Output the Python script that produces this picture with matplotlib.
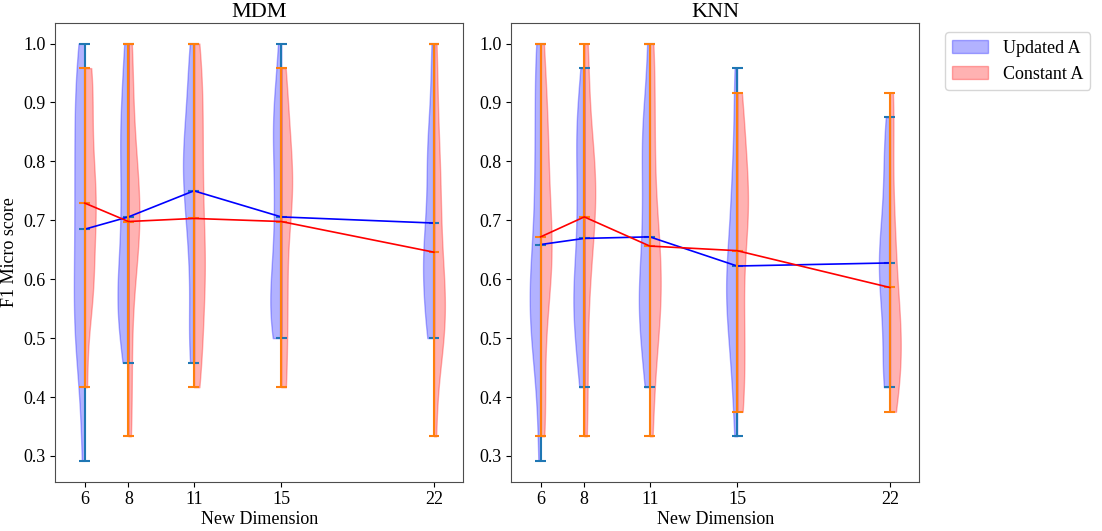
import numpy as np
import matplotlib
matplotlib.use("Agg")
import matplotlib.pyplot as plt
from matplotlib.patches import Patch

plt.rcParams["font.family"] = ["Liberation Serif", "DejaVu Serif"]
plt.rcParams["font.size"] = 13
plt.rcParams["axes.edgecolor"] = "0.3"

# test set has 24 trials, scores below are counts of correct trials per run
N_TEST = 24
dims = [6, 8, 11, 15, 22]
titles = ["MDM", "KNN"]

mdm_updated = [
    [7, 10, 12, 12, 13, 14, 15, 16, 17, 18, 19, 20, 21, 22, 23, 24],
    [11, 12, 13, 13, 14, 14, 15, 16, 17, 18, 19, 20, 21, 21, 23, 24],
    [11, 12, 13, 15, 16, 17, 18, 18, 19, 19, 20, 20, 21, 22, 23, 24],
    [12, 12, 13, 13, 14, 14, 15, 16, 17, 18, 19, 20, 21, 21, 22, 24],
    [12, 12, 13, 14, 14, 15, 15, 16, 16, 17, 18, 19, 20, 20, 22, 24],
]
mdm_constant = [
    [10, 13, 14, 14, 15, 16, 17, 17, 18, 18, 19, 20, 21, 22, 23, 23],
    [8, 10, 12, 14, 15, 16, 16, 17, 17, 18, 18, 19, 20, 21, 23, 24],
    [10, 11, 12, 13, 14, 15, 15, 16, 17, 18, 19, 20, 21, 22, 23, 24],
    [10, 10, 12, 13, 14, 15, 17, 17, 18, 18, 19, 19, 20, 21, 22, 23],
    [8, 11, 12, 12, 13, 13, 14, 14, 15, 16, 17, 18, 19, 20, 22, 24],
]
knn_updated = [
    [7, 10, 12, 12, 13, 13, 14, 15, 15, 16, 18, 19, 20, 22, 23, 24],
    [10, 11, 12, 13, 13, 14, 14, 15, 16, 17, 18, 19, 20, 21, 21, 23],
    [10, 11, 12, 13, 13, 14, 14, 15, 16, 17, 18, 19, 20, 21, 21, 24],
    [8, 10, 11, 12, 13, 13, 14, 14, 15, 15, 16, 17, 18, 19, 21, 23],
    [10, 10, 11, 12, 13, 14, 14, 15, 15, 16, 16, 17, 18, 19, 20, 21],
]
knn_constant = [
    [8, 9, 11, 13, 14, 15, 15, 16, 16, 17, 18, 19, 20, 21, 22, 24],
    [8, 10, 12, 14, 15, 16, 17, 17, 18, 18, 19, 19, 20, 21, 23, 24],
    [8, 10, 12, 12, 13, 14, 14, 15, 15, 16, 17, 18, 20, 21, 23, 24],
    [9, 9, 11, 11, 13, 13, 15, 16, 17, 17, 18, 18, 19, 20, 21, 22],
    [9, 10, 10, 11, 11, 12, 12, 13, 13, 14, 15, 16, 17, 19, 21, 22],
]


def half_violin(ax, data, color, linecolor, side):
    scores = [np.array(d) / N_TEST for d in data]
    parts = ax.violinplot(scores, positions=dims, widths=1, bw_method=0.4,
                          showmeans=True, showextrema=True)
    for body in parts["bodies"]:
        body.set_facecolor(color)
        body.set_edgecolor(color)
        body.set_alpha(0.3)
        verts = body.get_paths()[0].vertices
        mid = np.mean(verts[:, 0])
        if side == "left":
            verts[:, 0] = np.clip(verts[:, 0], -np.inf, mid)
        else:
            verts[:, 0] = np.clip(verts[:, 0], mid, np.inf)
    for key in ("cbars", "cmins", "cmaxes", "cmeans"):
        parts[key].set_color(linecolor)
    ax.plot(dims, [s.mean() for s in scores], color=color, lw=1.2)


fig, axes = plt.subplots(1, 2, figsize=(11.02, 5.31), dpi=100)
fig.subplots_adjust(left=0.0502, right=0.8342, top=0.9573, bottom=0.0928,
                    wspace=0.117)

for ax, title, upd, const in zip(axes, titles, [mdm_updated, knn_updated],
                                 [mdm_constant, knn_constant]):
    half_violin(ax, upd, "blue", "C0", "left")
    half_violin(ax, const, "red", "C1", "right")
    ax.set_xticks(dims)
    ax.set_title(title, fontsize=16, pad=4)
    ax.set_xlabel("New Dimension", labelpad=2)

axes[0].set_ylabel("F1 Micro score")

handles = [Patch(color="blue", alpha=0.3, label="Updated A"),
           Patch(color="red", alpha=0.3, label="Constant A")]
axes[1].legend(handles=handles, loc="upper left",
               bbox_to_anchor=(1.063, 0.979), borderaxespad=0)

fig.savefig("out.png", dpi=100)
